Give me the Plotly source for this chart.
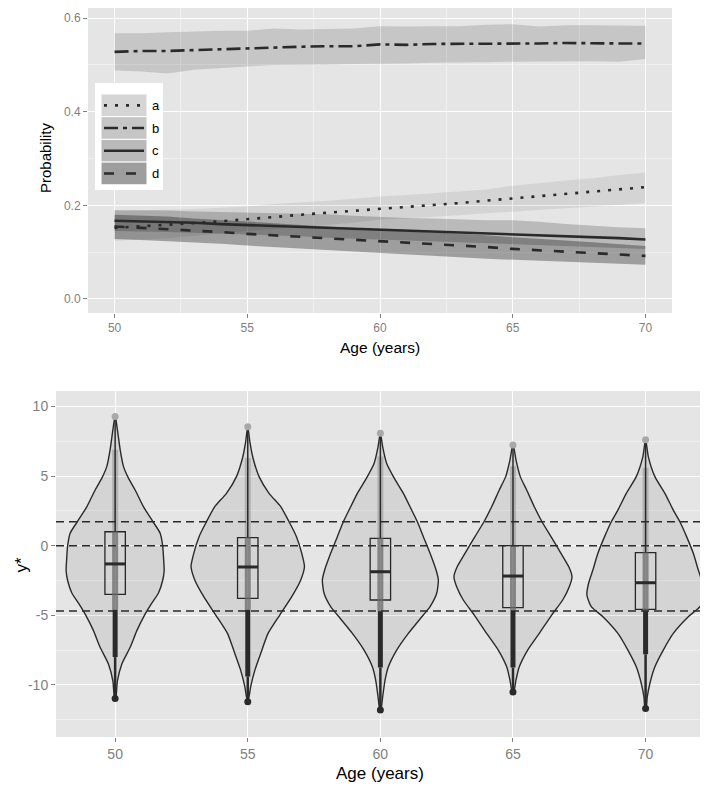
import plotly.graph_objects as go

# ---------------- top panel data ----------------
ages = list(range(50, 71))
a_mid = [0.152, 0.155, 0.158, 0.162, 0.166, 0.170, 0.175, 0.180, 0.184, 0.188, 0.192,
         0.196, 0.200, 0.205, 0.210, 0.215, 0.220, 0.225, 0.229, 0.234, 0.239]
a_hi = [0.188, 0.189, 0.190, 0.192, 0.195, 0.198, 0.203, 0.206, 0.210, 0.214, 0.219,
        0.222, 0.226, 0.230, 0.234, 0.242, 0.248, 0.253, 0.258, 0.265, 0.270]
a_lo = [0.124, 0.127, 0.130, 0.135, 0.140, 0.145, 0.150, 0.154, 0.158, 0.163, 0.170,
        0.172, 0.175, 0.179, 0.183, 0.187, 0.190, 0.194, 0.198, 0.201, 0.205]
b_mid = [0.528, 0.530, 0.530, 0.532, 0.534, 0.535, 0.537, 0.539, 0.540, 0.540, 0.544,
         0.543, 0.545, 0.545, 0.545, 0.546, 0.546, 0.547, 0.546, 0.546, 0.546]
b_hi = [0.568, 0.568, 0.570, 0.572, 0.573, 0.573, 0.578, 0.576, 0.577, 0.578, 0.583,
        0.582, 0.583, 0.583, 0.586, 0.587, 0.582, 0.585, 0.585, 0.584, 0.584]
b_lo = [0.488, 0.486, 0.482, 0.490, 0.494, 0.497, 0.500, 0.500, 0.501, 0.502, 0.503,
        0.503, 0.505, 0.506, 0.506, 0.507, 0.507, 0.508, 0.508, 0.507, 0.513]
c_mid = [0.167, 0.166, 0.165, 0.163, 0.160, 0.158, 0.157, 0.155, 0.152, 0.150, 0.148,
         0.147, 0.145, 0.143, 0.141, 0.138, 0.136, 0.134, 0.132, 0.130, 0.127]
c_hi = [0.190, 0.190, 0.189, 0.187, 0.186, 0.185, 0.184, 0.183, 0.181, 0.178, 0.175,
        0.173, 0.172, 0.170, 0.168, 0.168, 0.165, 0.160, 0.156, 0.153, 0.151]
c_lo = [0.145, 0.144, 0.143, 0.141, 0.139, 0.138, 0.136, 0.134, 0.131, 0.129, 0.127,
        0.125, 0.122, 0.121, 0.119, 0.117, 0.115, 0.113, 0.111, 0.109, 0.107]
d_mid = [0.155, 0.152, 0.150, 0.147, 0.143, 0.139, 0.136, 0.133, 0.130, 0.126, 0.123,
         0.120, 0.117, 0.114, 0.111, 0.107, 0.104, 0.101, 0.098, 0.095, 0.092]
d_hi = [0.180, 0.178, 0.176, 0.172, 0.169, 0.165, 0.162, 0.158, 0.155, 0.151, 0.148,
        0.145, 0.142, 0.139, 0.136, 0.132, 0.129, 0.125, 0.121, 0.117, 0.113]
d_lo = [0.128, 0.126, 0.124, 0.121, 0.118, 0.114, 0.111, 0.108, 0.105, 0.101, 0.098,
        0.095, 0.092, 0.089, 0.086, 0.083, 0.081, 0.079, 0.077, 0.075, 0.073]
groups = ["a", "b", "c", "d"]

# ---------------- bottom panel data ----------------
v_ages = [50, 55, 60, 65, 70]
v_y = [
    [9.35, 8.3, 6.9, 5.7, 4.85, 4.0, 2.8, 1.7, 0.9, 0.0, -1.0, -1.8, -2.5, -3.4, -4.2, -5.0, -6.1, -7.3, -8.5, -9.7, -11.0],
    [8.55, 7.36, 6.28, 4.96, 3.76, 2.8, 1.72, 0.65, -0.55, -1.5, -2.46, -3.66, -4.98, -6.3, -7.73, -8.9, -10.1, -11.1],
    [8.1, 7.1, 5.9, 4.96, 3.76, 2.56, 1.72, 0.65, -0.55, -1.75, -2.46, -3.42, -4.38, -4.98, -6.3, -7.5, -8.7, -9.65, -10.85, -11.8],
    [7.3, 6.16, 4.96, 4.0, 2.8, 1.72, 0.65, -0.55, -1.5, -2.23, -2.95, -3.9, -4.98, -6.3, -7.5, -8.7, -9.65, -10.6],
    [7.65, 6.4, 4.96, 3.76, 2.56, 1.72, 0.65, -0.55, -1.75, -2.7, -3.54, -4.38, -5.1, -6.3, -7.5, -8.7, -9.9, -10.85, -11.7],
]
v_half = [
    [0.0, 0.087, 0.189, 0.313, 0.502, 0.754, 1.067, 1.433, 1.697, 1.791, 1.829, 1.848, 1.791, 1.633, 1.357, 1.105, 0.818, 0.566, 0.253, 0.087, 0.019],
    [0.0, 0.087, 0.2, 0.426, 0.803, 1.244, 1.557, 1.836, 2.036, 2.138, 1.998, 1.659, 1.207, 0.765, 0.49, 0.275, 0.113, 0.019],
    [0.0, 0.087, 0.238, 0.49, 0.867, 1.18, 1.395, 1.621, 1.874, 2.1, 2.187, 2.123, 1.874, 1.621, 1.056, 0.615, 0.302, 0.177, 0.087, 0.019],
    [0.0, 0.113, 0.275, 0.517, 0.803, 1.094, 1.433, 1.81, 2.1, 2.225, 2.123, 1.874, 1.459, 0.992, 0.554, 0.238, 0.113, 0.019],
    [0.0, 0.102, 0.351, 0.728, 1.044, 1.293, 1.546, 1.799, 1.987, 2.149, 2.213, 2.048, 1.61, 1.044, 0.667, 0.351, 0.162, 0.064, 0.019],
]
v_max = [9.27, 8.55, 8.07, 7.23, 7.6]
v_upper = [6.9, 6.3, 6.4, 5.7, 5.6]
v_q3 = [1.0, 0.58, 0.53, 0.0, -0.5]
v_med = [-1.31, -1.53, -1.87, -2.18, -2.66]
v_q1 = [-3.49, -3.78, -3.9, -4.45, -4.57]
v_dense_top = [-4.6, -4.6, -4.7, -4.69, -4.7]
v_dense_bot = [-8.0, -9.4, -8.75, -8.75, -7.8]
v_min = [-10.97, -11.2, -11.8, -10.5, -11.7]
thresholds = [1.72, 0.0, -4.69]

# ---------------- styling ----------------
W, H = 708, 787
OFF = 8  # page body margin in the browser
FONT = "Liberation Sans, Arial, Helvetica, sans-serif"
DARK = "#2a2a2a"
ribbon_fill = {"a": "rgba(0,0,0,0.07)", "b": "rgba(0,0,0,0.135)",
               "c": "rgba(0,0,0,0.19)", "d": "rgba(0,0,0,0.31)"}
key_fill = {"a": "#d5d5d5", "b": "#c6c6c6", "c": "#b9b9b9", "d": "#9e9e9e"}
dash = {"a": "3px,8px", "b": "14px,5px,4px,5px", "c": "solid", "d": "10px,12px"}
series = {"a": (a_mid, a_lo, a_hi), "b": (b_mid, b_lo, b_hi),
          "c": (c_mid, c_lo, c_hi), "d": (d_mid, d_lo, d_hi)}

def px(xp):
    return max(0.0, (xp - OFF) / W)

def py(yp):
    return min(1.0, max(0.0, 1 - (yp - OFF) / H))

fig = go.Figure()

# ribbons
for g in groups:
    mid, lo, hi = series[g]
    fig.add_trace(go.Scatter(x=ages + ages[::-1], y=hi + lo[::-1], fill="toself",
                             fillcolor=ribbon_fill[g], line=dict(width=0),
                             mode="lines", hoverinfo="skip", xaxis="x", yaxis="y"))
# lines
for g in groups:
    mid, lo, hi = series[g]
    fig.add_trace(go.Scatter(x=ages, y=mid, mode="lines", name=g,
                             line=dict(color=DARK, width=2.6, dash=dash[g]),
                             xaxis="x", yaxis="y"))

# violins
for age, ys, hw in zip(v_ages, v_y, v_half):
    xs = [age + w for w in hw] + [age - w for w in hw[::-1]]
    yy = ys + ys[::-1]
    fig.add_trace(go.Scatter(x=xs, y=yy, fill="toself", fillcolor="rgba(0,0,0,0.07)",
                             mode="lines", line=dict(color=DARK, width=1.4, shape="spline", smoothing=0.6),
                             hoverinfo="skip", xaxis="x2", yaxis="y2"))

def segs(a, b):
    xs, ys = [], []
    for age, y0, y1 in zip(v_ages, a, b):
        xs += [age, age, None]
        ys += [y0, y1, None]
    return xs, ys

# light halo along upper whisker
sx, sy = segs(v_upper, v_q3)
fig.add_trace(go.Scatter(x=sx, y=sy, mode="lines", line=dict(color="rgba(110,110,110,0.35)", width=6),
                         hoverinfo="skip", xaxis="x2", yaxis="y2"))
# thin whisker line
sx, sy = segs(v_max, v_q3)
fig.add_trace(go.Scatter(x=sx, y=sy, mode="lines", line=dict(color=DARK, width=1.5),
                         hoverinfo="skip", xaxis="x2", yaxis="y2"))
# gray dense bar
sx, sy = segs(v_q3, v_dense_top)
fig.add_trace(go.Scatter(x=sx, y=sy, mode="lines", line=dict(color="rgba(105,105,105,0.75)", width=6),
                         hoverinfo="skip", xaxis="x2", yaxis="y2"))
# dark dense column
sx, sy = segs(v_dense_top, v_dense_bot)
fig.add_trace(go.Scatter(x=sx, y=sy, mode="lines", line=dict(color=DARK, width=5),
                         hoverinfo="skip", xaxis="x2", yaxis="y2"))
# lower tail
sx, sy = segs(v_dense_bot, v_min)
fig.add_trace(go.Scatter(x=sx, y=sy, mode="lines", line=dict(color=DARK, width=2.5),
                         hoverinfo="skip", xaxis="x2", yaxis="y2"))
# extreme points
fig.add_trace(go.Scatter(x=v_ages, y=v_min, mode="markers", marker=dict(color=DARK, size=7),
                         hoverinfo="skip", xaxis="x2", yaxis="y2"))
fig.add_trace(go.Scatter(x=v_ages, y=v_max, mode="markers", marker=dict(color="#a8a8a8", size=7),
                         hoverinfo="skip", xaxis="x2", yaxis="y2"))
# boxes
BOXW = 0.77
fig.add_trace(go.Box(x=v_ages, q1=v_q1, median=v_med, q3=v_q3, lowerfence=v_q1, upperfence=v_q3,
                     width=BOXW, fillcolor="rgba(0,0,0,0)", line=dict(color=DARK, width=1.3),
                     whiskerwidth=0, boxpoints=False, hoverinfo="skip", xaxis="x2", yaxis="y2"))
# thick medians
mx, my = [], []
for age, m in zip(v_ages, v_med):
    mx += [age - BOXW / 2, age + BOXW / 2, None]
    my += [m, m, None]
fig.add_trace(go.Scatter(x=mx, y=my, mode="lines", line=dict(color=DARK, width=3),
                         hoverinfo="skip", xaxis="x2", yaxis="y2"))

shapes = []
for t in thresholds:
    shapes.append(dict(type="line", xref="x2 domain", x0=0, x1=1, yref="y2", y0=t, y1=t,
                       line=dict(color=DARK, width=1.6, dash="8px,5px")))

# legend (decoration)
shapes.append(dict(type="rect", xref="paper", yref="paper", x0=px(95), x1=px(163), y0=py(190), y1=py(83),
                   fillcolor="white", line=dict(width=0), layer="above"))
row_top = 94.0
row_h = 22.7
annotations = []
for i, g in enumerate(groups):
    t = row_top + i * row_h
    shapes.append(dict(type="rect", xref="paper", yref="paper", x0=px(101), x1=px(147),
                       y0=py(t + row_h), y1=py(t), fillcolor=key_fill[g],
                       line=dict(color="white", width=1), layer="above"))
    yc = t + row_h / 2
    shapes.append(dict(type="line", xref="paper", yref="paper", x0=px(104), x1=px(144),
                       y0=py(yc), y1=py(yc), line=dict(color=DARK, width=2.6, dash=dash[g]),
                       layer="above"))
    annotations.append(dict(text=g, xref="paper", yref="paper", x=px(150), y=py(yc),
                            xanchor="left", yanchor="middle", showarrow=False,
                            font=dict(size=13, color="black", family=FONT)))

annotations += [
    dict(text="Age (years)", xref="paper", yref="paper", x=px(380), y=py(347), xanchor="center",
         yanchor="middle", showarrow=False, font=dict(size=15.5, color="black", family=FONT)),
    dict(text="Probability", xref="paper", yref="paper", x=px(45), y=py(158), xanchor="center",
         yanchor="middle", textangle=-90, showarrow=False, font=dict(size=15, color="black", family=FONT)),
    dict(text="Age (years)", xref="paper", yref="paper", x=px(380), y=py(773), xanchor="center",
         yanchor="middle", showarrow=False, font=dict(size=17, color="black", family=FONT)),
    dict(text="y*", xref="paper", yref="paper", x=px(9), y=py(565), xanchor="left",
         yanchor="middle", textangle=-90, showarrow=False, font=dict(size=17, color="black", family=FONT)),
]

axis_common = dict(ticks="outside", ticklen=4, tickwidth=1, tickcolor="#7f7f7f",
                   showgrid=True, gridcolor="white", gridwidth=1.2, zeroline=False,
                   showline=False, automargin=False)

# top panel: its top edge is clipped by the page margin, so keep the same scale
y_top_px = OFF
y_range_top = (299 - y_top_px) / 468.0

fig.update_layout(
    width=W, height=H, margin=dict(l=0, r=0, t=0, b=0),
    paper_bgcolor="white", plot_bgcolor="#e5e5e5", showlegend=False,
    font=dict(family=FONT),
    xaxis=dict(domain=[px(88), px(672)], anchor="y", range=[49, 71],
               tickvals=[50, 55, 60, 65, 70], tickfont=dict(size=12, color="#7f7f7f"),
               minor=dict(tickmode="array", tickvals=[52.5, 57.5, 62.5, 67.5], showgrid=True,
                          gridcolor="#f0f0f0", gridwidth=0.6, ticks=""),
               **axis_common),
    yaxis=dict(domain=[py(313), 1.0], anchor="x", range=[-0.03, y_range_top],
               tickvals=[0, 0.2, 0.4, 0.6], ticktext=["0.0", "0.2", "0.4", "0.6"],
               tickfont=dict(size=12, color="#7f7f7f"),
               minor=dict(tickmode="array", tickvals=[0.1, 0.3, 0.5], showgrid=True,
                          gridcolor="#f0f0f0", gridwidth=0.6, ticks=""),
               **axis_common),
    xaxis2=dict(domain=[px(56), px(705)], anchor="y2", range=[47.77, 72.24],
                tickvals=[50, 55, 60, 65, 70], tickfont=dict(size=14, color="#7f7f7f"),
                **axis_common),
    yaxis2=dict(domain=[py(737), py(391)], anchor="x2", range=[-13.74, 11.11],
                tickvals=[-10, -5, 0, 5, 10], ticktext=["-10", "-5", "0", "5", "10"],
                tickfont=dict(size=14, color="#7f7f7f"),
                minor=dict(tickmode="array", tickvals=[-12.5, -7.5, -2.5, 2.5, 7.5], showgrid=True,
                           gridcolor="#f0f0f0", gridwidth=0.6, ticks=""),
                **axis_common),
    shapes=shapes, annotations=annotations,
)

fig.write_html("out.html")
